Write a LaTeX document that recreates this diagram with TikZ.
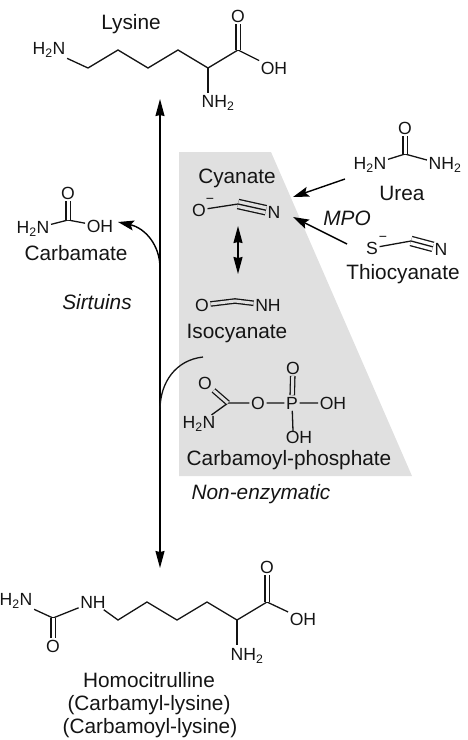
\documentclass[tikz,border=0pt]{standalone}
\usepackage{fontspec}
\setmainfont{Liberation Sans}
\usetikzlibrary{arrows.meta}
\definecolor{cshade}{HTML}{e0e0e0}
\definecolor{cink}{HTML}{141414}
\newcommand{\two}{\textsubscript{2}}

\begin{document}
\begin{tikzpicture}[x=1pt,y=-1pt,
  lbl/.style={font=\fontsize{20.8}{24}\selectfont,text=cink,inner sep=0pt},
  enz/.style={font=\fontsize{20.8}{24}\selectfont\itshape,text=cink,inner sep=0pt},
  atom/.style={font=\fontsize{17.6}{20}\selectfont,text=cink,inner sep=1.5pt},
  charge/.style={font=\fontsize{14}{14}\selectfont,text=cink,inner sep=0pt},
  bond/.style={draw=cink,line width=1.3pt},
  dbl/.style={bond,double=white,double distance=3pt},
  dblg/.style={bond,double=cshade,double distance=3pt},
  arr/.style={draw=black,line width=1.4pt,-{Stealth[length=16pt,width=10pt,inset=3pt]}},
  arrboth/.style={draw=black,line width=1.4pt,{Stealth[length=17pt,width=9pt,inset=1pt]}-{Stealth[length=17pt,width=9pt,inset=1pt]}}]
  \useasboundingbox (0,0) rectangle (467,740);
  \fill[cshade] (179,152) -- (271,152) -- (412,476) -- (179,476) -- cycle;

  % lysine
  \node[lbl] (lysine) at (131,24) {Lysine};
  \node[atom] (lysN) at (49,50) {H\two N};
  \node[atom] (lysOH) at (274,68) {OH};
  \node[atom] (lysO) at (238,16) {O};
  \node[atom] (lysNH) at (218,103) {NH\two};
  \coordinate (lysA) at (88,68);
  \coordinate (lysB) at (118,50);
  \coordinate (lysC) at (148,68);
  \coordinate (lysD) at (178,50);
  \coordinate (lysE) at (208,68);
  \coordinate (lysF) at (238,50);
  \coordinate (lysG) at (208,93);
  \draw[bond] (lysN) -- (lysA) -- (lysB) -- (lysC) -- (lysD) -- (lysE) -- (lysF) -- (lysOH);
  \draw[bond] (lysE) -- (lysG);
  \draw[dbl] (lysF) -- (lysO);

  % main arrow
  \coordinate (top) at (160,99);
  \coordinate (bottom) at (160,568);
  \coordinate (sirtFrom) at (160,268);
  \coordinate (carbTo) at (118,222);
  \coordinate (enzFrom) at (160,410);
  \coordinate (enzTo) at (203,357);
  \draw[arrboth] (top) -- (bottom);
  \draw[arr] (sirtFrom) .. controls (160,245) and (145,228) .. (carbTo);
  \draw[bond] (enzFrom) .. controls (160,382) and (176,360) .. (enzTo);

  % carbamate
  \node[atom] (cbO) at (68,193) {O};
  \node[atom] (cbN) at (33,229) {H\two N};
  \node[atom] (cbOH) at (100,226) {OH};
  \coordinate (cbC) at (68,220);
  \draw[bond] (cbN) -- (cbC) -- (cbOH);
  \draw[dbl] (cbC) -- (cbO);
  \node[lbl] (carbamate) at (76,253) {Carbamate};
  \node[enz] (sirtuins) at (97,302) {Sirtuins};

  % cyanate
  \node[lbl] (cyanate) at (237,178) {Cyanate};
  \node[atom] (cyO) at (199,210) {O};
  \node[charge] (cyMinus) at (210,201) {−};
  \node[atom] (cyN) at (274,212) {N};
  \coordinate (cyC) at (238,204);
  \draw[bond] (cyO) -- (cyC);
  \draw[dblg,double distance=8pt] (cyC) -- (cyN);
  \draw[bond] (cyC) -- (cyN);
  \coordinate (isoUp) at (238,226);
  \coordinate (isoDown) at (238,274);
  \draw[arrboth] (isoUp) -- (isoDown);

  % isocyanate
  \node[atom] (isoO) at (202,305) {O};
  \node[atom] (isoN) at (268,305) {NH};
  \coordinate (isoC) at (235,301);
  \draw[dblg] (isoO) -- (isoC) -- (isoN);
  \node[lbl] (isocyanate) at (237,333) {Isocyanate};

  % carbamoyl phosphate
  \node[atom] (cpO) at (205,383) {O};
  \node[atom] (cpN) at (199,424) {H\two N};
  \node[atom] (cpOb) at (258,403) {O};
  \node[atom] (cpP) at (292,403) {P};
  \node[atom] (cpOt) at (293,368) {O};
  \node[atom] (cpOHa) at (333,403) {OH};
  \node[atom] (cpOHb) at (299,437) {OH};
  \coordinate (cpC) at (228,403);
  \coordinate (cpOHc) at (293,431);
  \draw[bond] (cpN) -- (cpC) -- (cpOb) -- (cpP) -- (cpOHa);
  \draw[bond] (cpP) -- (cpOHc);
  \draw[dblg] (cpC) -- (cpO);
  \draw[dblg] (cpP) -- (cpOt);
  \node[lbl] (carbamoyl) at (289,460) {Carbamoyl-phosphate};
  \node[enz] (nonenz) at (261,494) {Non-enzymatic};

  % urea
  \node[atom] (urO) at (405,128) {O};
  \node[atom] (urNa) at (370,165) {H\two N};
  \node[atom] (urNb) at (445,165) {NH\two};
  \coordinate (urC) at (405,154);
  \draw[bond] (urNa) -- (urC) -- (urNb);
  \draw[dbl] (urC) -- (urO);
  \node[lbl] (urea) at (402,193) {Urea};

  % thiocyanate
  \node[atom] (thS) at (372,248) {S};
  \node[charge] (thMinus) at (383,239) {−};
  \node[atom] (thN) at (441,249) {N};
  \coordinate (thC) at (411,241);
  \draw[bond] (thS) -- (thC);
  \draw[dbl,double distance=8pt] (thC) -- (thN);
  \draw[bond] (thC) -- (thN);
  \node[lbl] (thiocyanate) at (403,274) {Thiocyanate};

  % mpo arrows
  \coordinate (urFrom) at (345,179);
  \coordinate (urTo) at (293,197);
  \coordinate (thFrom) at (347,244);
  \coordinate (thTo) at (293,217);
  \draw[arr] (urFrom) -- (urTo);
  \draw[arr] (thFrom) -- (thTo);
  \node[enz] (mpo) at (347,218) {MPO};

  % homocitrulline
  \node[atom] (hcN) at (16,601) {H\two N};
  \node[atom] (hcO) at (53,646) {O};
  \node[atom] (hcNH) at (93,602) {NH};
  \node[atom] (hcOH) at (303,619) {OH};
  \node[atom] (hcOt) at (267,567) {O};
  \node[atom] (hcNb) at (247,656) {NH\two};
  \coordinate (hcU) at (53,618);
  \coordinate (hcA) at (118,620);
  \coordinate (hcB) at (147,602);
  \coordinate (hcC) at (177,620);
  \coordinate (hcD) at (207,602);
  \coordinate (hcE) at (237,620);
  \coordinate (hcF) at (267,602);
  \coordinate (hcG) at (237,645);
  \draw[bond] (hcN) -- (hcU) -- (hcNH);
  \draw[dbl] (hcU) -- (hcO);
  \draw[bond] (hcNH) -- (hcA) -- (hcB) -- (hcC) -- (hcD) -- (hcE) -- (hcF) -- (hcOH);
  \draw[bond] (hcE) -- (hcG);
  \draw[dbl] (hcF) -- (hcOt);
  \node[lbl] (homocit) at (149,680) {Homocitrulline};
  \node[lbl] (carbamyl) at (149,705) {(Carbamyl-lysine)};
  \node[lbl] (carbamoyllys) at (150,728) {(Carbamoyl-lysine)};
\end{tikzpicture}
\end{document}
